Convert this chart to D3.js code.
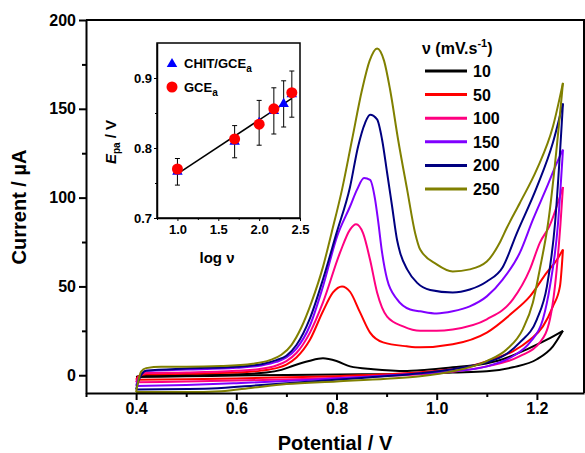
<!DOCTYPE html>
<html>
<head>
<meta charset="utf-8">
<script src="https://cdn.jsdelivr.net/npm/d3@7"></script>
<style>
  body { margin: 0; background: #fff; }
  text { font-family: "Liberation Sans", Arial, sans-serif; font-weight: bold; }
</style>
</head>
<body>
<div id="chart"></div>
<script>
// scan rates (mV/s) for the legend, one colour per voltammogram
var scanRates = ["10", "50", "100", "150", "200", "250"];
var curveColors = ["#000000", "#ff0000", "#ff0080", "#8000ff", "#000080", "#808000"];

// forward (anodic) scans, [potential V, current uA]
var fwd10 = [[0.40,-1],[0.41,-0.3],[0.45,0],[0.5,0.2],[0.6,0.6],[0.66,1.5],[0.69,3],[0.715,5.5],[0.745,8],[0.773,9.5],[0.80,8],[0.827,5],[0.873,3.4],[0.941,2.4],[0.967,2.8],[1.032,4.5],[1.086,6],[1.132,9],[1.18,14.6],[1.22,20],[1.252,25]];
var fwd50 = [[0.40,-2.5],[0.405,-0.5],[0.42,0.5],[0.5,0.8],[0.6,1.5],[0.65,2.6],[0.68,4],[0.70,6],[0.72,10],[0.747,20],[0.773,36],[0.793,46.6],[0.811,50],[0.827,47],[0.847,35.4],[0.867,24],[0.893,18.5],[0.94,16.3],[0.967,15.7],[1.032,17.4],[1.1,24],[1.152,35.4],[1.186,44.4],[1.22,57.9],[1.24,65],[1.252,70.8]];
var fwd100 = [[0.40,-4],[0.405,-1],[0.42,1.2],[0.5,1.5],[0.6,2.5],[0.65,3.6],[0.68,5.5],[0.70,8],[0.72,12.5],[0.747,24],[0.773,41],[0.807,69],[0.827,82],[0.839,85],[0.853,80],[0.867,65],[0.881,46.6],[0.901,33],[0.933,27.5],[0.967,25],[1.0,25],[1.032,25.8],[1.1,31.5],[1.152,42.7],[1.186,59.6],[1.206,74.7],[1.225,84],[1.252,106]];
var fwd150 = [[0.40,-6],[0.405,-2],[0.42,2.5],[0.5,3.2],[0.6,4.2],[0.65,5.5],[0.68,7.5],[0.70,10],[0.72,15],[0.747,28],[0.773,50],[0.801,78],[0.827,95],[0.841,104.5],[0.855,111],[0.867,110],[0.877,99],[0.883,87],[0.891,69],[0.901,54],[0.921,42.7],[0.947,37],[0.967,36],[1.0,34.8],[1.032,36],[1.066,38.8],[1.1,44.4],[1.132,54],[1.166,69],[1.192,87.6],[1.22,106],[1.24,119.7],[1.252,127]];
var fwd200 = [[0.40,-8],[0.405,-3],[0.42,2.5],[0.5,3.8],[0.6,4.8],[0.65,6.2],[0.68,8.5],[0.70,11],[0.72,17],[0.747,32],[0.773,54],[0.80,80],[0.827,106],[0.843,128.7],[0.857,142],[0.867,146.6],[0.881,144],[0.891,132.6],[0.901,114],[0.911,95],[0.921,76],[0.927,69],[0.941,59.6],[0.961,52],[0.987,48],[1.032,46.6],[1.066,48.3],[1.1,52.8],[1.132,61],[1.16,80],[1.2,106],[1.232,131],[1.252,153]];
var fwd250 = [[0.40,-9.5],[0.403,-5],[0.41,2],[0.42,4],[0.45,4.8],[0.5,4.8],[0.57,5.2],[0.633,6.5],[0.667,8.5],[0.69,11.5],[0.71,17],[0.73,27],[0.75,41],[0.773,61],[0.79,80],[0.811,104.5],[0.831,132.6],[0.851,160.7],[0.866,177],[0.881,184],[0.895,177],[0.907,160.7],[0.923,132.6],[0.941,104.5],[0.957,80],[0.967,70.8],[1.0,62.4],[1.032,58.4],[1.066,59.6],[1.1,64],[1.126,74.7],[1.14,83],[1.166,97],[1.2,116],[1.232,140],[1.252,164.6]];

// reverse (cathodic) scans
var rev10 = [[1.252,25],[1.232,16.3],[1.2,9],[1.152,4.5],[1.1,2.2],[1.032,1.5],[0.967,0.8],[0.85,0.5],[0.7,0.2],[0.6,-0.2],[0.5,-0.6],[0.4,-1]];
var rev50 = [[1.252,70.8],[1.246,50],[1.232,38.8],[1.212,27.5],[1.186,20],[1.152,13.5],[1.112,9],[1.066,5],[1.0,2.5],[0.9,0.5],[0.8,-0.5],[0.7,-1.2],[0.6,-1.8],[0.5,-2.2],[0.4,-2.5]];
var rev100 = [[1.252,106],[1.247,85],[1.236,50],[1.226,31.5],[1.206,18.5],[1.166,10.7],[1.1,5],[1.032,2],[0.967,0.5],[0.85,-1],[0.75,-2],[0.6,-3],[0.5,-3.5],[0.4,-4]];
var rev150 = [[1.252,127],[1.242,85],[1.226,50],[1.212,31.5],[1.186,18.5],[1.152,10.7],[1.1,5],[1.032,2.2],[0.967,1],[0.85,-1],[0.75,-2.5],[0.6,-4.5],[0.5,-5.5],[0.4,-6]];
var rev200 = [[1.252,153],[1.236,85],[1.22,50],[1.2,31.5],[1.166,18.5],[1.132,10.7],[1.1,7.3],[1.032,3.4],[0.967,1.1],[0.85,-1.5],[0.75,-3.5],[0.65,-5.5],[0.55,-7.5],[0.4,-8]];
var rev250 = [[1.252,164.6],[1.222,85],[1.206,60],[1.192,41],[1.172,26],[1.14,14.6],[1.1,8],[1.032,2.2],[0.967,-0.6],[0.9,-2],[0.8,-3.5],[0.7,-5],[0.633,-7],[0.57,-9],[0.5,-9.5],[0.4,-9.5]];

var forwardScans = [fwd10, fwd50, fwd100, fwd150, fwd200, fwd250];
var reverseScans = [rev10, rev50, rev100, rev150, rev200, rev250];

// main axis ticks
var xTicks = [0.4, 0.6, 0.8, 1.0, 1.2];
var xMinorTicks = [0.3, 0.5, 0.7, 0.9, 1.1];
var yTicks = [0, 50, 100, 150, 200];
var yMinorTicks = [25, 75, 125, 175];

// inset: peak potential vs log scan rate
var logNuChit = [1.0, 1.7, 2.0, 2.18, 2.3, 2.4];
var epaChit = [0.766, 0.809, 0.836, 0.853, 0.863, 0.877];
var errChit = [0.019, 0.023, 0.032, 0.033, 0.033, 0.033];
var logNuGce = [1.0, 1.7, 2.0, 2.18, 2.4];
var epaGce = [0.770, 0.813, 0.834, 0.856, 0.879];
var fitLine = [[1.0, 0.763], [2.4, 0.871]];
var insetXTicks = [1.0, 1.5, 2.0, 2.5];
var insetXMinor = [0.75, 1.25, 1.75, 2.25];
var insetYTicks = [0.7, 0.8, 0.9];
var insetYMinor = [0.75, 0.85];

var svg = d3.select("#chart").append("svg")
  .attr("width", 585)
  .attr("height", 453);

var x = d3.scaleLinear().domain([0.3, 1.294]).range([86, 584]);
var y = d3.scaleLinear().domain([-10, 200]).range([393, 20]);

// frame top and right
svg.append("path")
  .attr("d", `M${x(0.3)},${y(200)}H${x(1.294)}V${y(-10)}`)
  .attr("fill", "none")
  .attr("stroke", "#000")
  .attr("stroke-width", 2);

// voltammograms
var line = d3.line()
  .x(d => x(d[0]))
  .y(d => y(d[1]))
  .curve(d3.curveMonotoneX);

forwardScans.forEach(function(scan, i) {
  svg.append("path")
    .attr("d", line(scan))
    .attr("fill", "none")
    .attr("stroke", curveColors[i])
    .attr("stroke-width", 2);
  svg.append("path")
    .attr("d", line(reverseScans[i].slice().reverse()))
    .attr("fill", "none")
    .attr("stroke", curveColors[i])
    .attr("stroke-width", 2);
});

// axes
var xAxis = svg.append("g")
  .attr("transform", `translate(0, ${y(-10)})`)
  .call(d3.axisBottom(x).tickValues(xTicks).tickSize(7).tickSizeOuter(0).tickPadding(3).tickFormat(d3.format(".1f")));
svg.append("g")
  .attr("transform", `translate(0, ${y(-10)})`)
  .call(d3.axisBottom(x).tickValues(xMinorTicks).tickSize(4).tickSizeOuter(0).tickFormat(""))
  .select(".domain").remove();

var yAxis = svg.append("g")
  .attr("transform", `translate(${x(0.3)}, 0)`)
  .call(d3.axisLeft(y).tickValues(yTicks).tickSize(7).tickSizeOuter(0).tickPadding(3));
svg.append("g")
  .attr("transform", `translate(${x(0.3)}, 0)`)
  .call(d3.axisLeft(y).tickValues(yMinorTicks).tickSize(4).tickSizeOuter(0).tickFormat(""))
  .select(".domain").remove();

svg.selectAll(".domain").attr("stroke-width", 2);
svg.selectAll(".tick line").attr("stroke-width", 2);
xAxis.selectAll("text").style("font-size", "16px");
yAxis.selectAll("text").style("font-size", "16px");

// axis labels
svg.append("text")
  .attr("x", 335)
  .attr("y", 450)
  .attr("text-anchor", "middle")
  .style("font-size", "20px")
  .text("Potential / V");

svg.append("text")
  .attr("transform", "translate(26, 207) rotate(-90)")
  .attr("text-anchor", "middle")
  .style("font-size", "20px")
  .text("Current / \u00b5A");

// legend
var legTitle = svg.append("text")
  .attr("x", 422)
  .attr("y", 54)
  .style("font-size", "16px");
legTitle.append("tspan").text("\u03bd (mV.s");
legTitle.append("tspan").attr("dy", -7).style("font-size", "11px").text("-1");
legTitle.append("tspan").attr("dy", 7).text(")");

var legend = svg.selectAll(".leg")
  .data(scanRates)
  .enter()
  .append("g")
  .attr("class", "leg")
  .attr("transform", (d, i) => `translate(425, ${71 + i * 23.6})`);
legend.append("line")
  .attr("x1", 0).attr("x2", 42)
  .attr("stroke", (d, i) => curveColors[i])
  .attr("stroke-width", 3);
legend.append("text")
  .attr("x", 48)
  .attr("y", 6)
  .style("font-size", "16px")
  .text(d => d);

// inset
var ix = d3.scaleLinear().domain([0.75, 2.5]).range([157, 300]);
var iy = d3.scaleLinear().domain([0.7, 0.95]).range([218, 43]);

svg.append("rect")
  .attr("x", ix(0.75)).attr("y", iy(0.95))
  .attr("width", ix(2.5) - ix(0.75))
  .attr("height", iy(0.7) - iy(0.95))
  .attr("fill", "#fff")
  .attr("stroke", "#000")
  .attr("stroke-width", 1.5);

var insetX = svg.append("g")
  .attr("transform", `translate(0, ${iy(0.7)})`)
  .call(d3.axisBottom(ix).tickValues(insetXTicks).tickSize(3).tickSizeOuter(0).tickPadding(4).tickFormat(d3.format(".1f")));
svg.append("g")
  .attr("transform", `translate(0, ${iy(0.7)})`)
  .call(d3.axisBottom(ix).tickValues(insetXMinor).tickSize(2).tickSizeOuter(0).tickFormat(""))
  .select(".domain").remove();
var insetY = svg.append("g")
  .attr("transform", `translate(${ix(0.75)}, 0)`)
  .call(d3.axisLeft(iy).tickValues(insetYTicks).tickSize(3).tickSizeOuter(0).tickPadding(2).tickFormat(d3.format(".1f")));
svg.append("g")
  .attr("transform", `translate(${ix(0.75)}, 0)`)
  .call(d3.axisLeft(iy).tickValues(insetYMinor).tickSize(2).tickSizeOuter(0).tickFormat(""))
  .select(".domain").remove();
insetX.selectAll("text").style("font-size", "13px");
insetY.selectAll("text").style("font-size", "13px");
insetX.select(".domain").attr("stroke-width", 1.5);
insetY.select(".domain").attr("stroke-width", 1.5);

// fit line
svg.append("line")
  .attr("x1", ix(fitLine[0][0])).attr("y1", iy(fitLine[0][1]))
  .attr("x2", ix(fitLine[1][0])).attr("y2", iy(fitLine[1][1]))
  .attr("stroke", "#000")
  .attr("stroke-width", 1.5);

// error bars
var errG = svg.selectAll(".err")
  .data(logNuChit)
  .enter()
  .append("g")
  .attr("class", "err")
  .attr("stroke", "#000")
  .attr("stroke-width", 1);
errG.append("line")
  .attr("x1", d => ix(d)).attr("x2", d => ix(d))
  .attr("y1", (d, i) => iy(epaChit[i] + errChit[i]))
  .attr("y2", (d, i) => iy(epaChit[i] - errChit[i]));
errG.append("line")
  .attr("x1", d => ix(d) - 2.5).attr("x2", d => ix(d) + 2.5)
  .attr("y1", (d, i) => iy(epaChit[i] + errChit[i]))
  .attr("y2", (d, i) => iy(epaChit[i] + errChit[i]));
errG.append("line")
  .attr("x1", d => ix(d) - 2.5).attr("x2", d => ix(d) + 2.5)
  .attr("y1", (d, i) => iy(epaChit[i] - errChit[i]))
  .attr("y2", (d, i) => iy(epaChit[i] - errChit[i]));

var triangle = d3.symbol().type(d3.symbolTriangle).size(48);
svg.selectAll(".tri")
  .data(logNuChit)
  .enter()
  .append("path")
  .attr("class", "tri")
  .attr("d", triangle)
  .attr("transform", (d, i) => `translate(${ix(d)}, ${iy(epaChit[i])})`)
  .attr("fill", "#0000ff");

svg.selectAll(".dot")
  .data(logNuGce)
  .enter()
  .append("circle")
  .attr("class", "dot")
  .attr("cx", d => ix(d))
  .attr("cy", (d, i) => iy(epaGce[i]))
  .attr("r", 5.5)
  .attr("fill", "#ff0000");

// inset legend
svg.append("path")
  .attr("d", triangle)
  .attr("transform", "translate(172, 64)")
  .attr("fill", "#0000ff");
var t1 = svg.append("text").attr("x", 184).attr("y", 68).style("font-size", "13px");
t1.append("tspan").text("CHIT/GCE");
t1.append("tspan").attr("dy", 4).style("font-size", "10px").text("a");
svg.append("circle")
  .attr("cx", 172).attr("cy", 87).attr("r", 5.5)
  .attr("fill", "#ff0000");
var t2 = svg.append("text").attr("x", 184).attr("y", 92).style("font-size", "13px");
t2.append("tspan").text("GCE");
t2.append("tspan").attr("dy", 4).style("font-size", "10px").text("a");

// inset axis labels
svg.append("text")
  .attr("x", 217)
  .attr("y", 263)
  .attr("text-anchor", "middle")
  .style("font-size", "15px")
  .text("log \u03bd");

var epa = svg.append("text")
  .attr("transform", "translate(116, 142) rotate(-90)")
  .attr("text-anchor", "middle")
  .style("font-size", "15px");
epa.append("tspan").style("font-style", "italic").text("E");
epa.append("tspan").attr("dy", 4).style("font-size", "10px").text("pa");
epa.append("tspan").attr("dy", -4).text(" / V");
</script>
</body>
</html>
